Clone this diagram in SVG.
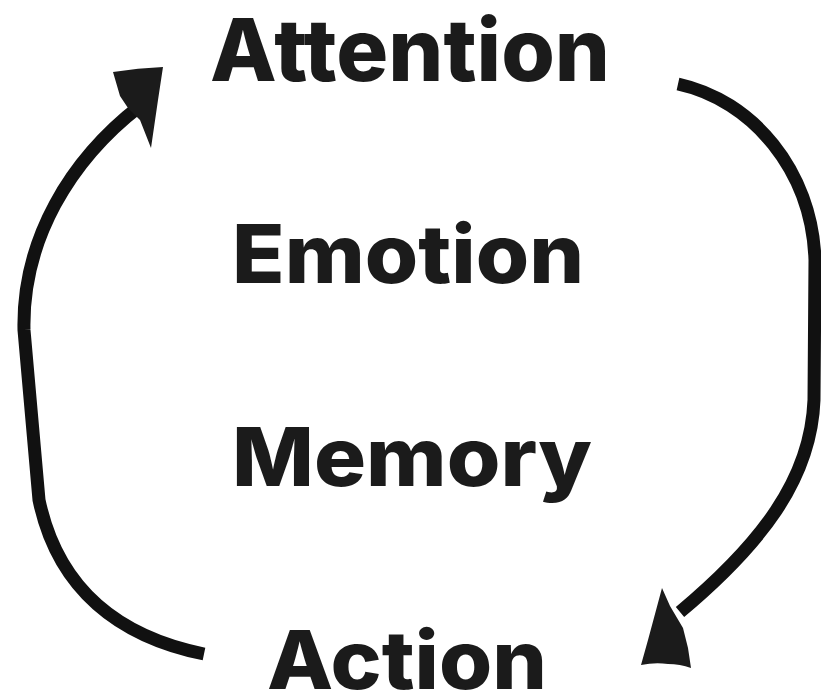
<svg xmlns="http://www.w3.org/2000/svg" width="821" height="695" viewBox="0 0 821 695">
<style>
.lbl{font-family:Inter,"Open Sans","Liberation Sans",sans-serif;font-weight:800;fill:#1b1b1b;text-anchor:middle}
.cn{fill:none;stroke:#111;stroke-width:13;stroke-linecap:butt;stroke-linejoin:round}
.hd{fill:#1b1b1b;stroke:none}
</style>
<rect width="821" height="695" fill="#fff"/>
<g id="connectors">
<path class="cn" d="M678,84 C752,100 812,170 815,260 L814,400 C811,480 760,545 680,612"/>
<path class="hd" d="M662,588 L670,606 L683,628 L688,648 L691,668 Q680,664 668,664 Q655,662 641,665 L648,640 Z"/>
<path class="cn" d="M204,654 C120,637 58,590 39,500 L24,330 C22,240 70,160 140,106"/>
<path class="hd" d="M113,72 Q138,68 163,67 L158,100 L151,148 L140,120 L128,108 L120,96 Z"/>
</g>
<g id="attention"><text class="lbl" x="410" y="81" font-size="86" textLength="400" lengthAdjust="spacingAndGlyphs">Attention</text></g>
<g id="emotion"><text class="lbl" x="408" y="283" font-size="81" textLength="352" lengthAdjust="spacingAndGlyphs">Emotion</text></g>
<g id="memory"><text class="lbl" x="412" y="486" font-size="81" textLength="360" lengthAdjust="spacingAndGlyphs">Memory</text></g>
<g id="action"><text class="lbl" x="407" y="689" font-size="81" textLength="280" lengthAdjust="spacingAndGlyphs">Action</text></g>
</svg>
